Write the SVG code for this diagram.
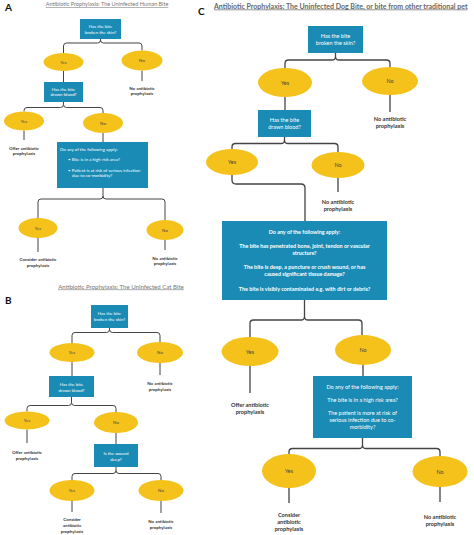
<svg xmlns="http://www.w3.org/2000/svg" width="474" height="535" viewBox="0 0 474 535">
<style>
.bg{fill:#ffffff}
.box{fill:#1a8bb5}
.ell{fill:#f4c21b}
.con{fill:none;stroke:#444;stroke-width:1;stroke-linejoin:round}
.conC{fill:none;stroke:#444;stroke-width:1.3;stroke-linejoin:round}
.lbl{font-family:Lato,"Liberation Sans",sans-serif;font-weight:bold;font-size:10px;fill:#111}
.ttl{font-family:Lato,"Liberation Sans",sans-serif;font-size:5.5px;fill:#777;text-decoration:underline}
.ttlC{font-family:Lato,"Liberation Sans",sans-serif;font-weight:bold;font-size:7px;fill:#666;text-decoration:underline}
.bt{font-family:Lato,"Liberation Sans",sans-serif;font-size:4.4px;fill:#fff;text-anchor:middle}
.btl{font-family:Lato,"Liberation Sans",sans-serif;font-size:4.4px;fill:#fff}
.et{font-family:Lato,"Liberation Sans",sans-serif;font-size:4.4px;fill:#444;text-anchor:middle}
.ot{font-family:Lato,"Liberation Sans",sans-serif;font-weight:bold;font-size:4.4px;fill:#333;text-anchor:middle}
.btC{font-family:Lato,"Liberation Sans",sans-serif;font-weight:bold;font-size:5.4px;fill:#fff;text-anchor:middle}
.btN{font-family:Lato,"Liberation Sans",sans-serif;font-size:5.5px;fill:#fff;text-anchor:middle}
.etC{font-family:Lato,"Liberation Sans",sans-serif;font-size:5.4px;fill:#444;text-anchor:middle}
.otC{font-family:Lato,"Liberation Sans",sans-serif;font-weight:bold;font-size:5.6px;fill:#333;text-anchor:middle}
</style>
<rect class="bg" x="0" y="0" width="474" height="535"/>

<!-- Titles -->
<text class="lbl" x="5" y="11">A</text>
<text class="ttl" x="107" y="6" text-anchor="middle">Antibiotic Prophylaxis: The Uninfected Human Bite</text>
<text class="lbl" x="5" y="304">B</text>
<text class="ttl" x="121" y="288.5" text-anchor="middle" style="font-size:6.1px">Antibiotic Prophylaxis: The Uninfected Cat Bite</text>
<text class="lbl" x="198" y="15">C</text>
<text class="ttlC" x="214" y="8.5">Antibiotic Prophylaxis: The Uninfected Dog Bite, or bite from other traditional pet</text>

<!-- Connectors -->
<g id="connectors">
  <!-- A -->
  <path class="con" d="M100.5,39 V40 M63.5,53 V46 Q63.5,43 66.5,43 H97.5 Q100.5,43 100.5,40 Q100.5,43 103.5,43 H139 Q142,43 142,46 V50.5"/>
  <path class="con" d="M142,70.5 V81"/>
  <path class="con" d="M63.5,71 V82"/>
  <path class="con" d="M63.5,102 V104.5 M24,111.5 V110.5 Q24,107.5 27,107.5 H60.5 Q63.5,107.5 63.5,104.5 Q63.5,107.5 66.5,107.5 H100 Q103,107.5 103,110.5 V113"/>
  <path class="con" d="M24,130.5 V140"/>
  <path class="con" d="M103,133 V142"/>
  <path class="con" d="M103,188 V196 M38,218 V202 Q38,199 41,199 H100 Q103,199 103,196 Q103,199 106,199 H162 Q165,199 165,202 V220"/>
  <path class="con" d="M38,238 V252"/>
  <path class="con" d="M165,240 V250"/>
  <!-- B -->
  <path class="con" d="M109.5,328 V329.5 M72,343 V335.5 Q72,332.5 75,332.5 H106.5 Q109.5,332.5 109.5,329.5 Q109.5,332.5 112.5,332.5 H157 Q160,332.5 160,335.5 V342"/>
  <path class="con" d="M160,363 V375"/>
  <path class="con" d="M72,362 V376"/>
  <path class="con" d="M71.5,397 V402.5 M27,411.5 V408.5 Q27,405.5 30,405.5 H68.5 Q71.5,405.5 71.5,402.5 Q71.5,405.5 74.5,405.5 H113 Q116,405.5 116,408.5 V412"/>
  <path class="con" d="M27,429.5 V443"/>
  <path class="con" d="M116,433 V444"/>
  <path class="con" d="M116,467 V470.5 M72,480 V476.5 Q72,473.5 75,473.5 H113 Q116,473.5 116,470.5 Q116,473.5 119,473.5 H158 Q161,473.5 161,476.5 V480"/>
  <path class="con" d="M72,501 V512"/>
  <path class="con" d="M161,501 V513"/>
  <!-- C -->
  <path class="conC" d="M335.5,53 V56.5 M285,68 V63.5 Q285,60 288.5,60 H332 Q335.5,60 335.5,56.5 Q335.5,60 339,60 H386.5 Q390,60 390,63.5 V67"/>
  <path class="conC" d="M390,95 V112"/>
  <path class="conC" d="M285,97 V110"/>
  <path class="conC" d="M284.5,137 V140 M232,149 V147 Q232,143.5 235.5,143.5 H281 Q284.5,143.5 284.5,140 Q284.5,143.5 288,143.5 H334.5 Q338,143.5 338,147 V152"/>
  <path class="conC" d="M338,178 V192"/>
  <path class="conC" d="M232,175 V180 Q232,184 236,184 H301 Q305,184 305,188 V221"/>
  <path class="conC" d="M304.5,300 V316.5 M250,337 V323.5 Q250,320 253.5,320 H301 Q304.5,320 304.5,316.5 Q304.5,320 308,320 H358.5 Q362,320 362,323.5 V335"/>
  <path class="conC" d="M250,366 V393"/>
  <path class="conC" d="M363,365 V376"/>
  <path class="conC" d="M362.5,438 V445 M289,454 V452 Q289,448.5 292.5,448.5 H359 Q362.5,448.5 362.5,445 Q362.5,448.5 366,448.5 H436.5 Q440,448.5 440,452 V456"/>
  <path class="conC" d="M289,488 V503"/>
  <path class="conC" d="M440,487 V502"/>
</g>

<!-- Panel A nodes -->
<g id="A-q1"><rect class="box" x="80" y="19" width="41" height="20"/><text class="bt" x="100.5" y="28">Has the bite</text><text class="bt" x="100.5" y="33.5">broken the skin?</text></g>
<g id="A-yes1"><ellipse class="ell" cx="63.5" cy="62" rx="20" ry="9"/><text class="et" x="63.5" y="63.5">Yes</text></g>
<g id="A-no1"><ellipse class="ell" cx="142" cy="60.5" rx="20.5" ry="10"/><text class="et" x="142" y="62">No</text></g>
<g id="A-out1"><text class="ot" x="142" y="89.5">No antibiotic</text><text class="ot" x="142" y="95">prophylaxis</text></g>
<g id="A-q2"><rect class="box" x="44" y="82" width="39" height="20"/><text class="bt" x="63.5" y="90.5">Has the bite</text><text class="bt" x="63.5" y="96">drawn blood?</text></g>
<g id="A-yes2"><ellipse class="ell" cx="24" cy="121" rx="20" ry="9.5"/><text class="et" x="24" y="122.5">Yes</text></g>
<g id="A-no2"><ellipse class="ell" cx="103" cy="123" rx="20" ry="10"/><text class="et" x="103" y="124.5">No</text></g>
<g id="A-out2"><text class="ot" x="24" y="149.5">Offer antibiotic</text><text class="ot" x="24" y="155">prophylaxis</text></g>
<g id="A-q3"><rect class="box" x="57" y="142" width="91" height="46"/>
<text class="btl" x="60" y="151">Do any of the following apply:</text>
<text class="btl" x="68" y="161">• Bite is in a high risk area?</text>
<text class="btl" x="68" y="171.5">• Patient is at risk of serious infection</text>
<text class="btl" x="72" y="177">due to co-morbidity?</text></g>
<g id="A-yes3"><ellipse class="ell" cx="38" cy="228" rx="19.5" ry="10"/><text class="et" x="38" y="229.5">Yes</text></g>
<g id="A-no3"><ellipse class="ell" cx="165" cy="230" rx="18.5" ry="10"/><text class="et" x="165" y="231.5">No</text></g>
<g id="A-out3"><text class="ot" x="38" y="261">Consider antibiotic</text><text class="ot" x="38" y="266.5">prophylaxis</text></g>
<g id="A-out4"><text class="ot" x="165" y="259.5">No antibiotic</text><text class="ot" x="165" y="265">prophylaxis</text></g>

<!-- Panel B nodes -->
<g id="B-q1"><rect class="box" x="91" y="305" width="37" height="23"/><text class="bt" x="109.5" y="314.5">Has the bite</text><text class="bt" x="109.5" y="320.5">broken the skin?</text></g>
<g id="B-yes1"><ellipse class="ell" cx="72" cy="352.5" rx="22.5" ry="9.5"/><text class="et" x="72" y="354">Yes</text></g>
<g id="B-no1"><ellipse class="ell" cx="160" cy="352.5" rx="23" ry="10.5"/><text class="et" x="160" y="354">No</text></g>
<g id="B-out1"><text class="ot" x="160" y="385">No antibiotic</text><text class="ot" x="160" y="390.5">prophylaxis</text></g>
<g id="B-q2"><rect class="box" x="49" y="376" width="45" height="21"/><text class="bt" x="71.5" y="385.5">Has the bite</text><text class="bt" x="71.5" y="391.5">drawn blood?</text></g>
<g id="B-yes2"><ellipse class="ell" cx="27" cy="420.5" rx="22.5" ry="9"/><text class="et" x="27" y="422">Yes</text></g>
<g id="B-no2"><ellipse class="ell" cx="116" cy="422.5" rx="22" ry="10.5"/><text class="et" x="116" y="424">No</text></g>
<g id="B-out2"><text class="ot" x="27" y="454">Offer antibiotic</text><text class="ot" x="27" y="459.5">prophylaxis</text></g>
<g id="B-q3"><rect class="box" x="94" y="444" width="44" height="23"/><text class="bt" x="116" y="454.5">Is the wound</text><text class="bt" x="116" y="460.5">deep?</text></g>
<g id="B-yes3"><ellipse class="ell" cx="72" cy="490.5" rx="22.5" ry="10.5"/><text class="et" x="72" y="492">Yes</text></g>
<g id="B-no3"><ellipse class="ell" cx="161" cy="490.5" rx="22.5" ry="10.5"/><text class="et" x="161" y="492">No</text></g>
<g id="B-out3"><text class="ot" x="72" y="520.5">Consider</text><text class="ot" x="72" y="526.5">antibiotic</text><text class="ot" x="72" y="532.5">prophylaxis</text></g>
<g id="B-out4"><text class="ot" x="161" y="523">No antibiotic</text><text class="ot" x="161" y="528.5">prophylaxis</text></g>

<!-- Panel C nodes -->
<g id="C-q1"><rect class="box" x="308" y="26" width="55" height="27"/><text class="btN" x="335.5" y="38">Has the bite</text><text class="btN" x="335.5" y="44.5">broken the skin?</text></g>
<g id="C-yes1"><ellipse class="ell" cx="285" cy="82.5" rx="27" ry="14.5"/><text class="etC" x="285" y="84.5">Yes</text></g>
<g id="C-no1"><ellipse class="ell" cx="390" cy="81" rx="28" ry="14"/><text class="etC" x="390" y="83">No</text></g>
<g id="C-out1"><text class="otC" x="390" y="120.5">No antibiotic</text><text class="otC" x="390" y="127.5">prophylaxis</text></g>
<g id="C-q2"><rect class="box" x="258" y="110" width="53" height="27"/><text class="btN" x="284.5" y="122">Has the bite</text><text class="btN" x="284.5" y="129">drawn blood?</text></g>
<g id="C-yes2"><ellipse class="ell" cx="232" cy="162" rx="26" ry="13"/><text class="etC" x="232" y="164">Yes</text></g>
<g id="C-no2"><ellipse class="ell" cx="338" cy="165" rx="26.5" ry="13"/><text class="etC" x="338" y="167">No</text></g>
<g id="C-out2"><text class="otC" x="338" y="204">No antibiotic</text><text class="otC" x="338" y="211">prophylaxis</text></g>
<g id="C-q3"><rect class="box" x="222" y="221" width="165" height="79"/>
<text class="btC" x="304.5" y="234">Do any of the following apply:</text>
<text class="btC" x="304.5" y="248">The bite has penetrated bone, joint, tendon or vascular</text>
<text class="btC" x="304.5" y="254.5">structure?</text>
<text class="btC" x="304.5" y="269">The bite is deep, a puncture or crush wound, or has</text>
<text class="btC" x="304.5" y="276">caused significant tissue damage?</text>
<text class="btC" x="304.5" y="291">The bite is visibly contaminated e.g. with dirt or debris?</text></g>
<g id="C-yes3"><ellipse class="ell" cx="250" cy="351.5" rx="28.5" ry="14.5"/><text class="etC" x="250" y="353.5">Yes</text></g>
<g id="C-no3"><ellipse class="ell" cx="363" cy="350" rx="28" ry="15"/><text class="etC" x="363" y="352">No</text></g>
<g id="C-out3"><text class="otC" x="250" y="406.5">Offer antibiotic</text><text class="otC" x="250" y="413.5">prophylaxis</text></g>
<g id="C-q4"><rect class="box" x="313" y="376" width="99" height="62"/>
<text class="btN" x="362.5" y="388.5">Do any of the following apply:</text>
<text class="btN" x="362.5" y="401.5">The bite is in a high risk area?</text>
<text class="btN" x="362.5" y="415">The patient is more at risk of</text>
<text class="btN" x="362.5" y="422">serious infection due to co-</text>
<text class="btN" x="362.5" y="429">morbidity?</text></g>
<g id="C-yes4"><ellipse class="ell" cx="289" cy="471" rx="27" ry="17"/><text class="etC" x="289" y="473">Yes</text></g>
<g id="C-no4"><ellipse class="ell" cx="440" cy="471.5" rx="27.5" ry="15.5"/><text class="etC" x="440" y="473.5">No</text></g>
<g id="C-out4"><text class="otC" x="289" y="516.5">Consider</text><text class="otC" x="289" y="523.5">antibiotic</text><text class="otC" x="289" y="530.5">prophylaxis</text></g>
<g id="C-out5"><text class="otC" x="440" y="518.5">No antibiotic</text><text class="otC" x="440" y="525.5">prophylaxis</text></g>
</svg>
